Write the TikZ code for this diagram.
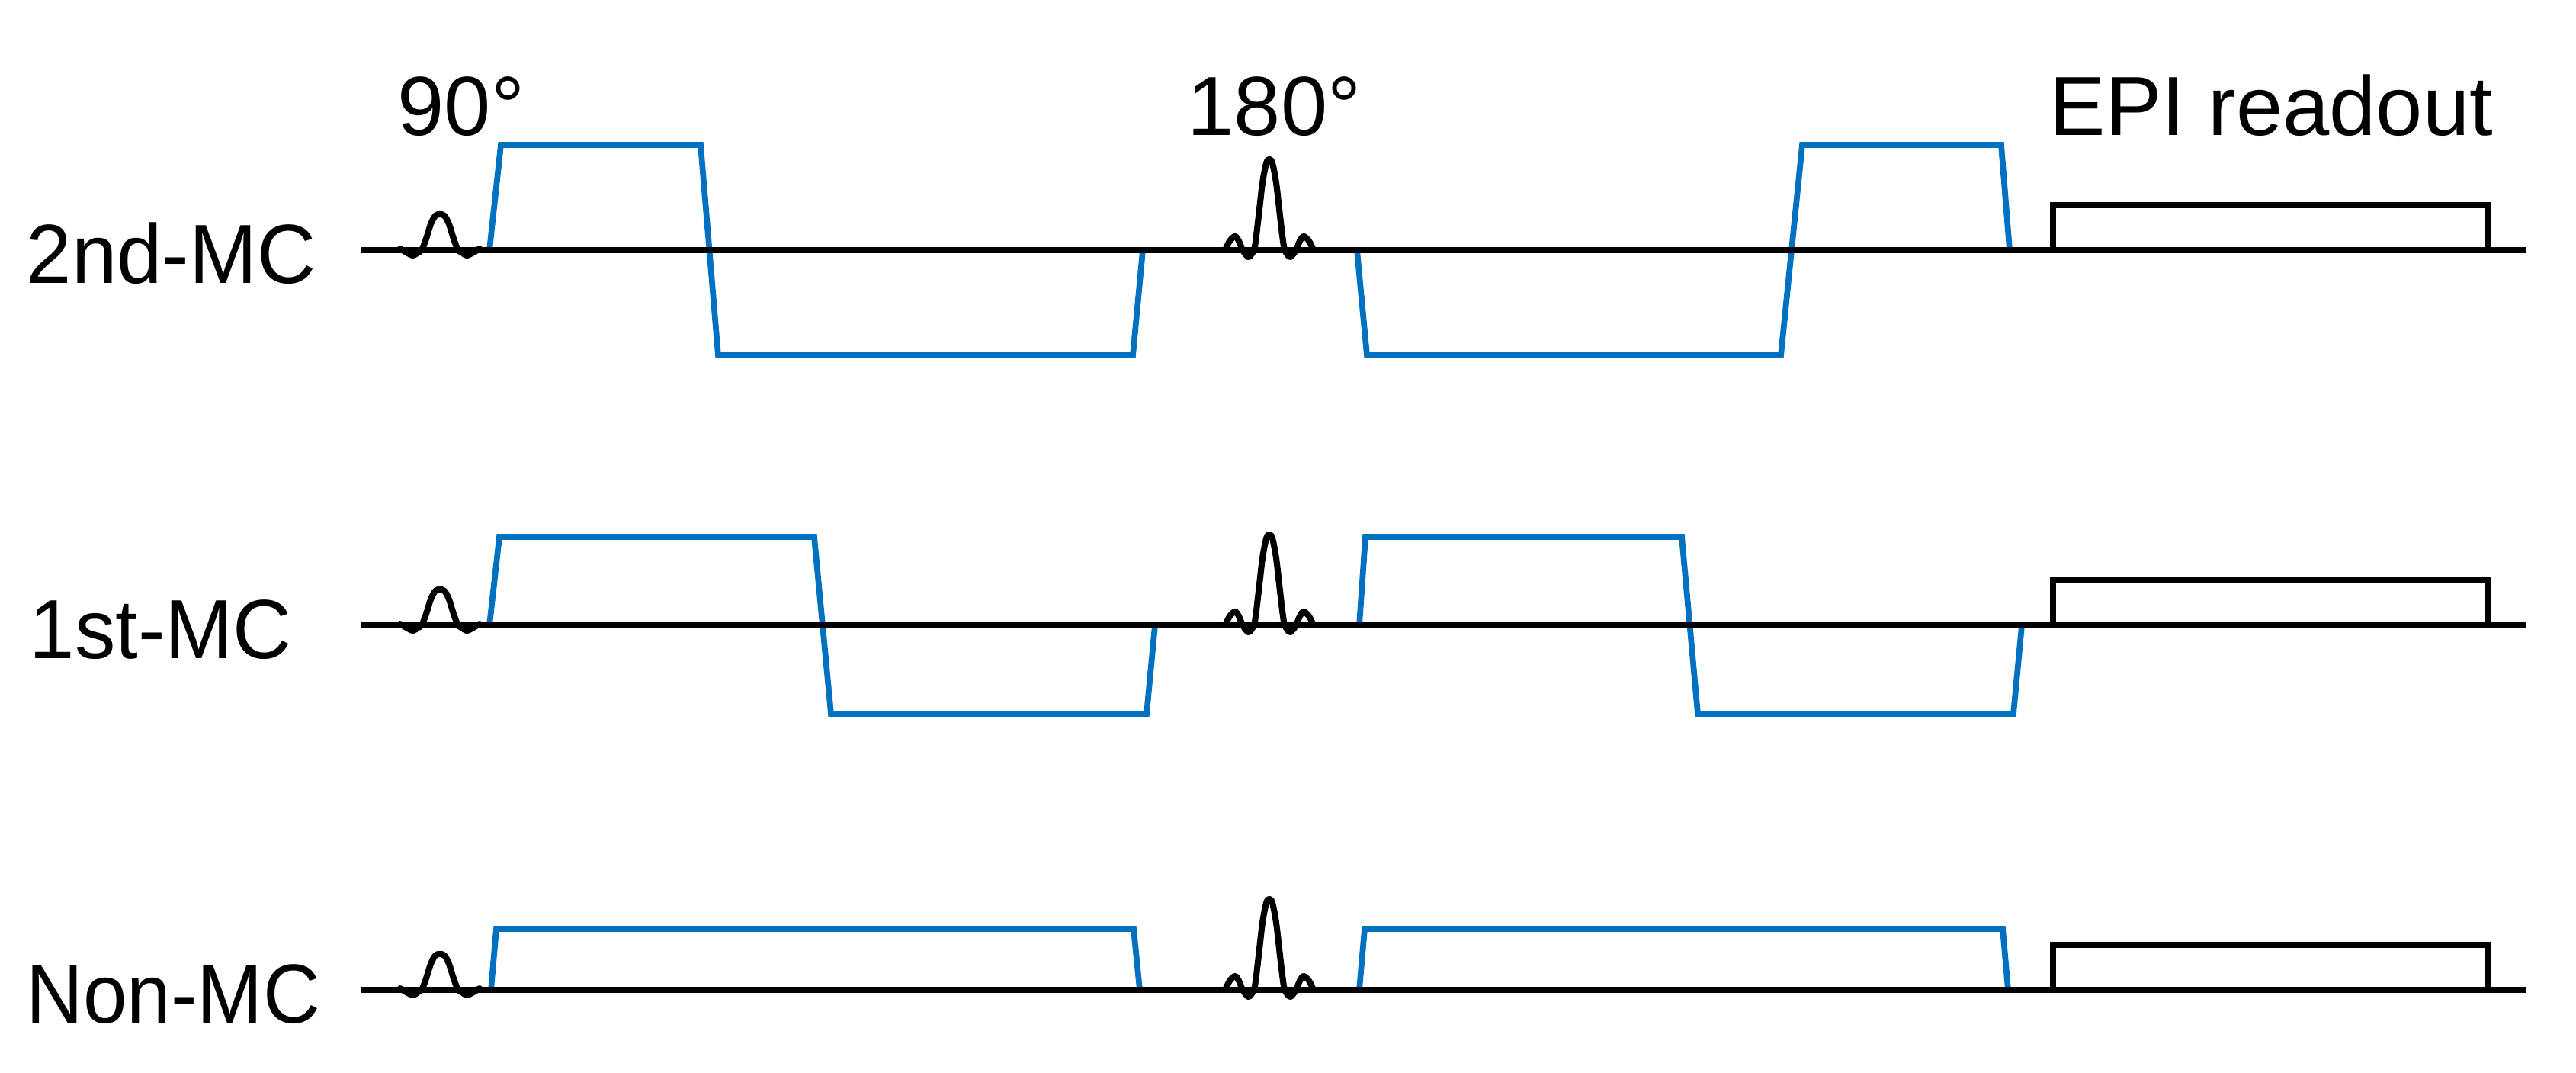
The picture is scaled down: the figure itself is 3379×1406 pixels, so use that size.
\documentclass[tikz,border=0pt]{standalone}
\usepackage{fontspec}
\setmainfont{Liberation Sans}
\definecolor{gblue}{RGB}{0,112,192}
\begin{document}
\begin{tikzpicture}[x=0.01cm,y=-0.01cm,
  baseln/.style={line width=2.4pt, black},
  grad/.style={line width=2.2pt, gblue, line join=miter},
  rf/.style={line width=2.3pt, black, line join=round, line cap=round},
  epi/.style={line width=2.3pt, black, line join=miter},
  lbl/.style={font=\fontsize{31.3}{36}\selectfont, inner sep=0pt, anchor=base west},
  pulsenine/.pic={\draw[rf] plot[smooth, tension=0.6] coordinates {(-52,-2) (-44,3) (-35,7) (-29,3) (-24,0) (-18,-15) (-12,-34) (-6,-45) (0,-47) (6,-45) (12,-34) (18,-15) (24,0) (29,3) (35,7) (44,3) (52,-2)};},
  pulseoneeighty/.pic={\draw[rf] plot[smooth, tension=0.55] coordinates {(-58,0) (-52,-12) (-45,-18) (-40,-12) (-35,0) (-30,7) (-27,9) (-23,5) (-19,-5) (-14,-45) (-9,-88) (-4,-114) (0,-119) (4,-114) (9,-88) (14,-45) (19,-5) (23,5) (27,9) (30,7) (35,0) (40,-12) (45,-18) (52,-12) (58,0)};}
]
\useasboundingbox (0,0) rectangle (3379,1406);

% titles
\node[lbl] (t90) at (521,177) {90°};
\node[lbl] (t180) at (1557,177) {180°};
\node[lbl] (tepi) at (2688,177) {EPI readout};

% row labels
\node[lbl, xscale=0.97] (l2) at (34,371) {2nd-MC};
\node[lbl, xscale=0.97] (l1) at (38,863) {1st-MC};
\node[lbl, xscale=0.94] (l0) at (34,1341) {Non-MC};

% ---- Row 1: 2nd-MC ----
\draw[grad] (642,328) -- (657,190) -- (919,190) -- (942,466) -- (1486,466) -- (1499,328);
\draw[grad] (1780,328) -- (1793,466) -- (2336,466) -- (2364,190) -- (2625,190) -- (2636,328);
\draw[epi] (2693,328) -- (2693,269) -- (3264,269) -- (3264,328);
\draw[baseln] (473,328) -- (3313,328);
\pic at (577,328) {pulsenine};
\pic at (1665,328) {pulseoneeighty};

% ---- Row 2: 1st-MC ----
\draw[grad] (642,820) -- (655,704) -- (1068,704) -- (1090,936) -- (1504,936) -- (1515,820);
\draw[grad] (1783,820) -- (1791,704) -- (2206,704) -- (2227,936) -- (2641,936) -- (2652,820);
\draw[epi] (2693,820) -- (2693,761) -- (3264,761) -- (3264,820);
\draw[baseln] (473,820) -- (3313,820);
\pic at (577,820) {pulsenine};
\pic at (1665,820) {pulseoneeighty};

% ---- Row 3: Non-MC ----
\draw[grad] (644,1298) -- (651,1218) -- (1487,1218) -- (1495,1298);
\draw[grad] (1783,1298) -- (1790,1218) -- (2627,1218) -- (2634,1298);
\draw[epi] (2693,1298) -- (2693,1239) -- (3264,1239) -- (3264,1298);
\draw[baseln] (473,1298) -- (3313,1298);
\pic at (577,1298) {pulsenine};
\pic at (1665,1298) {pulseoneeighty};
\end{tikzpicture}
\end{document}
